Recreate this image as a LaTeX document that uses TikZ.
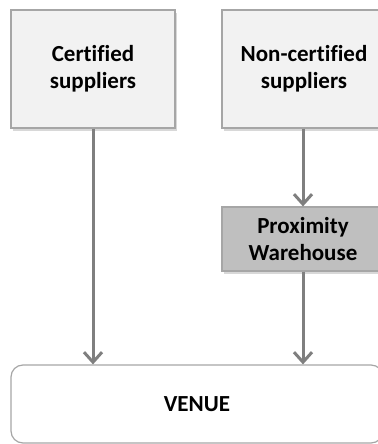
\documentclass[tikz,border=0pt]{standalone}
\usepackage{fontspec}
\setmainfont{Carlito}[Ligatures=NoCommon]
\usetikzlibrary{shapes,arrows.meta,positioning,shadows,calc}

\definecolor{boxgray}{HTML}{F2F2F2}
\definecolor{whgray}{HTML}{BFBFBF}
\definecolor{linegray}{HTML}{A6A6A6}
\definecolor{arrowgray}{HTML}{7F7F7F}

\begin{document}
\begin{tikzpicture}[x=0.5pt, y=-0.5pt,
    supplier/.style={rectangle, draw=linegray, fill=boxgray, line width=0.6pt,
        minimum width=82pt, minimum height=59pt, align=center,
        font=\fontsize{11.5}{13.5}\selectfont\bfseries,
        drop shadow={shadow xshift=1.2pt, shadow yshift=-1.5pt, fill=black!30}},
    store/.style={supplier, fill=whgray, minimum width=81pt, minimum height=32pt},
    venuebox/.style={rectangle, rounded corners=6pt, draw=linegray, fill=white,
        line width=0.6pt, minimum width=186pt, minimum height=39pt,
        font=\fontsize{11.5}{13.5}\selectfont\bfseries},
    flow/.style={draw=arrowgray, line width=1.5pt,
        -{Straight Barb[length=5pt, width=9pt, line width=1.5pt]}}]
    \useasboundingbox (0,0) rectangle (378,444);
    % 供应商
    \node[supplier] (cert) at (93,69) {Certified\\suppliers};
    \node[supplier] (noncert) at (304,69) {Non-certified\\suppliers};
    % 仓库与场馆
    \node[store] (wh) at (303,239) {Proximity\\Warehouse};
    \node[venuebox] (venue) at (197,404) {VENUE};
    % 物流
    \draw[flow] (cert) -- (cert |- venue.north);
    \draw[flow] (noncert.south -| wh) -- (wh);
    \draw[flow] (wh) -- (wh |- venue.north);
\end{tikzpicture}
\end{document}
